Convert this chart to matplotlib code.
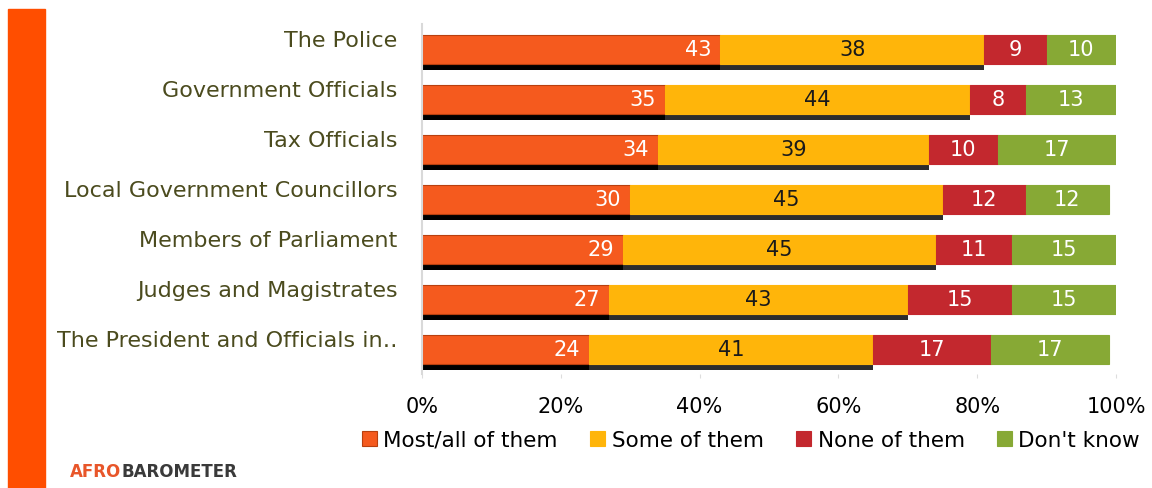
import numpy as np
import matplotlib.pyplot as plt
from matplotlib.patches import Rectangle

institutions = ["The Police", "Government Officials", "Tax Officials",
                "Local Government Councillors", "Members of Parliament",
                "Judges and Magistrates", "The President and Officials in\u2025"]
most_all = [43, 35, 34, 30, 29, 27, 24]
some = [38, 44, 39, 45, 45, 43, 41]
none = [9, 8, 10, 12, 11, 15, 17]
dont_know = [10, 13, 17, 12, 15, 15, 17]

series = [most_all, some, none, dont_know]
names = ["Most/all of them", "Some of them", "None of them", "Don't know"]
colors = ["#F55A1E", "#FFB50A", "#C3282E", "#87A935"]
edges = ["#B8400F", "#FFB50A", "#C3282E", "#87A935"]
text_colors = ["white", "#1a1a1a", "white", "white"]
shadow_colors = ["black", "#2d2d2d", None, None]

plt.rcParams['font.family'] = ['DejaVu Sans']

fig = plt.figure(figsize=(11.52, 4.89), dpi=100)
fig.patch.set_facecolor("white")

# orange strip on the left
fig.patches.append(Rectangle((8 / 1152, 0), 37 / 1152, 1 - 10 / 489,
                             transform=fig.transFigure, color="#FF4E00", zorder=0))

ax = fig.add_axes([422 / 1152, 1 - 375 / 489, 694 / 1152, 350 / 489])
y = np.arange(len(institutions))
h = 0.58
left = np.zeros(len(institutions))
for vals, name, col, ec, tc, sc in zip(series, names, colors, edges, text_colors, shadow_colors):
    vals = np.array(vals, dtype=float)
    if sc is not None:
        ax.barh(y + 0.12, vals, left=left, height=h, color=sc, zorder=1)
    ax.barh(y, vals, left=left, height=h, color=col, edgecolor=ec,
            linewidth=0.8, label=name, zorder=2)
    for yi, l, v in zip(y, left, vals):
        if name == "Most/all of them":
            ax.text(l + v - 1.3, yi, f"{int(v)}", ha="right", va="center",
                    color=tc, fontsize=15, zorder=3)
        else:
            ax.text(l + v / 2, yi, f"{int(v)}", ha="center", va="center",
                    color=tc, fontsize=15, zorder=3)
    left += vals

ax.set_xlim(0, 100)
ax.set_ylim(len(institutions) - 0.5, -0.5)
ax.set_xticks(np.arange(0, 101, 20))
ax.set_xticklabels([f"{t}%" for t in range(0, 101, 20)], fontsize=15)
ax.tick_params(axis="x", length=3, color="#dddddd", pad=13)
ax.set_yticks([])
for yi, lab in zip(y, institutions):
    ax.text(-0.035, yi - 0.18, lab, transform=ax.get_yaxis_transform(),
            ha="right", va="center", fontsize=16, color="#4B4B1E")
for s in ["top", "right", "bottom"]:
    ax.spines[s].set_visible(False)
ax.spines["left"].set_color("#d9d9d9")
ax.spines["left"].set_linewidth(1.5)
ax.set_facecolor("none")

fig.legend(loc="center", bbox_to_anchor=(751 / 1152, 1 - 441 / 489), ncol=4,
           frameon=False, fontsize=15.5, handlelength=0.7, handleheight=0.7,
           handletextpad=0.3, columnspacing=1.5)

t1 = fig.text(70 / 1152, 1 - 472 / 489, "AFRO", color="#E8562A", fontsize=12,
              fontweight="bold", va="center", ha="left")
fig.canvas.draw()
bb = t1.get_window_extent()
fig.text(bb.x1 / fig.bbox.width, 1 - 472 / 489, "BAROMETER", color="#3a3a3a",
         fontsize=12, fontweight="bold", va="center", ha="left")

fig.savefig("out.png", dpi=100)
